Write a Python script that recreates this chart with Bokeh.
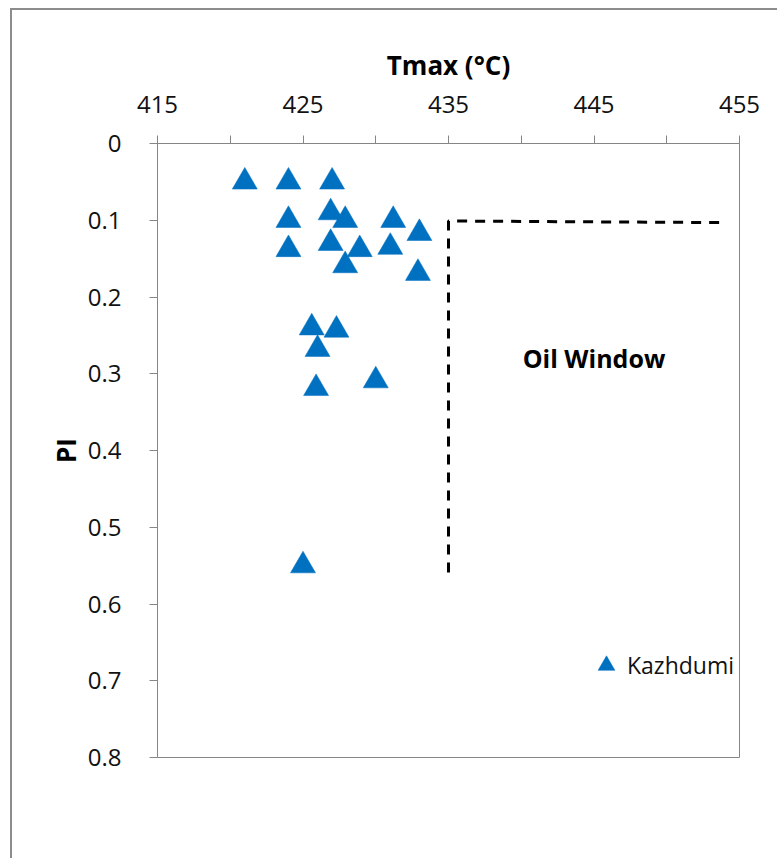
from bokeh.plotting import figure
from bokeh.models import Range1d, FixedTicker, Label, Legend, LegendItem
from bokeh.embed import file_html
from bokeh.resources import INLINE

# ---- data ----
tmax = [421, 424, 427, 426.9, 427.9, 424, 431.2, 433, 426.9, 428.9,
        424, 431, 427.9, 432.9, 425.6, 427.3, 426, 430, 425.9, 425]
pi = [0.05, 0.05, 0.05, 0.09, 0.10, 0.10, 0.10, 0.117, 0.13, 0.138,
      0.138, 0.135, 0.159, 0.169, 0.24, 0.243, 0.268, 0.309, 0.319, 0.55]

oil_x = [453.6, 435, 435]
oil_y = [0.103, 0.101, 0.56]

x_ticks = [415, 425, 435, 445, 455]
x_minor = [420, 430, 440, 450]
y_ticks = [0, 0.1, 0.2, 0.3, 0.4, 0.5, 0.6, 0.7, 0.8]

FONT = "Open Sans"
AXIS_GRAY = "#868686"

p = figure(
    width=767, height=850,
    min_border_left=145, min_border_top=133,
    min_border_right=40, min_border_bottom=103,
    x_range=Range1d(415, 455), y_range=Range1d(0.8, 0),
    x_axis_location="above",
    output_backend="svg", toolbar_location=None,
)
# outer chart-area border (only left/top edges fall inside the window)
p.styles = {"margin-left": "10px", "margin-top": "8px",
            "border-left": "2px solid #8c8c8c", "border-top": "2px solid #8c8c8c"}

p.grid.visible = False
p.outline_line_color = AXIS_GRAY
p.outline_line_width = 1
p.background_fill_color = "white"
p.border_fill_color = "white"

xa = p.xaxis[0]
xa.ticker = FixedTicker(ticks=x_ticks, minor_ticks=x_minor)
xa.axis_label = "Tmax (°C)"
ya = p.yaxis[0]
ya.ticker = FixedTicker(ticks=y_ticks)
ya.axis_label = "PI"

for ax in (xa, ya):
    ax.axis_line_color = AXIS_GRAY
    ax.major_tick_line_color = AXIS_GRAY
    ax.minor_tick_line_color = AXIS_GRAY
    ax.major_tick_out = 8
    ax.major_tick_in = 0
    ax.minor_tick_out = 8
    ax.minor_tick_in = 0
    ax.major_label_text_font = FONT
    ax.major_label_text_font_size = "24px"
    ax.major_label_text_color = "#111111"
    ax.axis_label_text_font = FONT
    ax.axis_label_text_font_size = "26px"
    ax.axis_label_text_font_style = "bold"
    ax.axis_label_text_color = "#000000"

ya.minor_tick_line_color = None
ya.major_label_standoff = 28
ya.axis_label_standoff = 1
xa.major_label_standoff = 23
xa.axis_label_standoff = 10

r = p.scatter(tmax, pi, marker="triangle", size=25,
              fill_color="#0070C0", line_color="#0070C0", line_width=0.5)

p.line(oil_x, oil_y, line_color="black", line_width=3, line_dash="10 8")

p.add_layout(Label(x=445, y=0.279, text="Oil Window", text_align="center",
                   text_baseline="middle", text_font=FONT,
                   text_font_size="25px", text_font_style="bold",
                   text_color="#000000"))

legend = Legend(items=[LegendItem(label="Kazhdumi", renderers=[r])],
                location=(428, 69), padding=0, margin=0,
                glyph_width=42, glyph_height=46, label_standoff=-15,
                label_text_font=FONT, label_text_font_size="23px",
                label_text_color="#111111",
                border_line_color=None, background_fill_alpha=0)
p.add_layout(legend, "center")

open("out.html", "w").write(file_html(p, INLINE))
